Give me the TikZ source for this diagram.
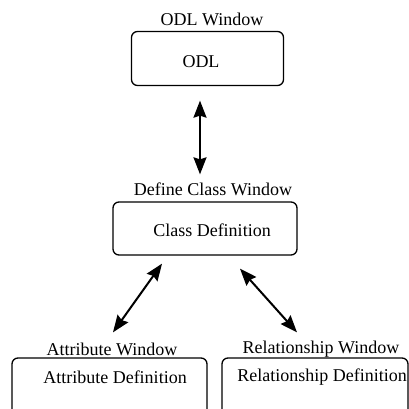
\documentclass[tikz,border=0pt]{standalone}
\usepackage{fontspec}
\setmainfont{Liberation Serif}
\usetikzlibrary{arrows.meta}
\begin{document}
\begin{tikzpicture}[x=1pt,y=-1pt,
  win/.style={draw, line width=1.3pt, rounded corners=6pt, inner sep=0pt},
  txt/.style={inner sep=0pt, font=\fontsize{18}{21}\selectfont},
  dbl/.style={line width=2pt, {Stealth[length=17pt,width=13pt,inset=2pt]}-{Stealth[length=17pt,width=13pt,inset=2pt]}}]
\useasboundingbox (0,0) rectangle (409,409);
\clip (0,0) rectangle (409,409);
% ODL window
\node[txt] (odlw) at (212,19) {ODL Window};
\node[win, minimum width=152pt, minimum height=54pt] (odlbox) at (207.5,58.5) {};
\node[txt] (odl) at (201,62) {ODL};
% Class window
\node[txt] (clw) at (213,189) {Define Class Window};
\node[win, minimum width=184pt, minimum height=53pt] (clbox) at (205,228.5) {};
\node[txt] (cl) at (212,230) {Class Definition};
% Attribute window
\node[txt] (atw) at (112,349) {Attribute Window};
\node[win, minimum width=195pt, minimum height=70pt] (atbox) at (109.5,393) {};
\node[txt] (at) at (115,377) {Attribute Definition};
% Relationship window
\node[txt] (rlw) at (321,349) {Relationship Window};
\node[win, minimum width=186pt, minimum height=70pt] (rlbox) at (315,393) {};
\node[txt] (rl) at (322,377) {Relationship Definition};
% arrows
\draw[dbl] ([xshift=-7.5pt,yshift=-14.5pt]odlbox.south) -- ([xshift=-5pt,yshift=27pt]clbox.north);
\draw[dbl] ([xshift=-43pt,yshift=-8pt]clbox.south) -- ([xshift=3.5pt,yshift=25pt]atbox.north);
\draw[dbl] ([xshift=35pt,yshift=-13pt]clbox.south) -- ([xshift=-18pt,yshift=25pt]rlbox.north);
\end{tikzpicture}
\end{document}
